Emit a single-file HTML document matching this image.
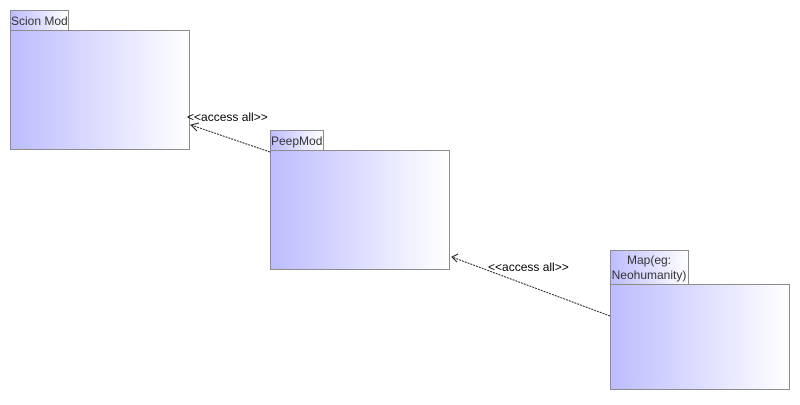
<!DOCTYPE html><html><head><style>body{margin:0;width:800px;height:400px;background:#fff;overflow:hidden}</style></head><body>
<svg width="800" height="400" xmlns="http://www.w3.org/2000/svg" font-family="Liberation Sans, sans-serif" font-size="12">
<defs><linearGradient id="g" x1="0" x2="1" y1="0" y2="0"><stop offset="0" stop-color="#bcbcff"/><stop offset="1" stop-color="#fff"/></linearGradient></defs>
<g stroke="#8c8c8c" fill="url(#g)">
<rect x="10.5" y="10.5" width="58" height="20"/><rect x="10.5" y="30.5" width="179" height="119"/>
<rect x="270.5" y="130.5" width="53" height="20"/><rect x="270.5" y="150.5" width="179" height="119"/>
<rect x="610.5" y="250.5" width="78" height="34"/><rect x="610.5" y="284.5" width="179" height="105"/>
</g>
<g fill="#333">
<text x="11" y="25">Scion Mod</text>
<text x="271" y="145">PeepMod</text>
<text x="649" y="264" text-anchor="middle">Map(eg:</text>
<text x="649" y="279" text-anchor="middle">Neohumanity)</text>
</g>
<g stroke="#222" fill="none" stroke-dasharray="2,1">
<path d="M270 152 L191 125"/><path d="M610 316 L452 257"/>
</g>
<g stroke="#222" fill="none">
<path d="M199 123 L191 125 L197 131"/><path d="M458 254 L452 257 L457 262"/>
</g>
<g fill="#000">
<text x="187" y="121">&lt;&lt;access all&gt;&gt;</text>
<text x="488" y="271">&lt;&lt;access all&gt;&gt;</text>
</g>
</svg></body></html>
